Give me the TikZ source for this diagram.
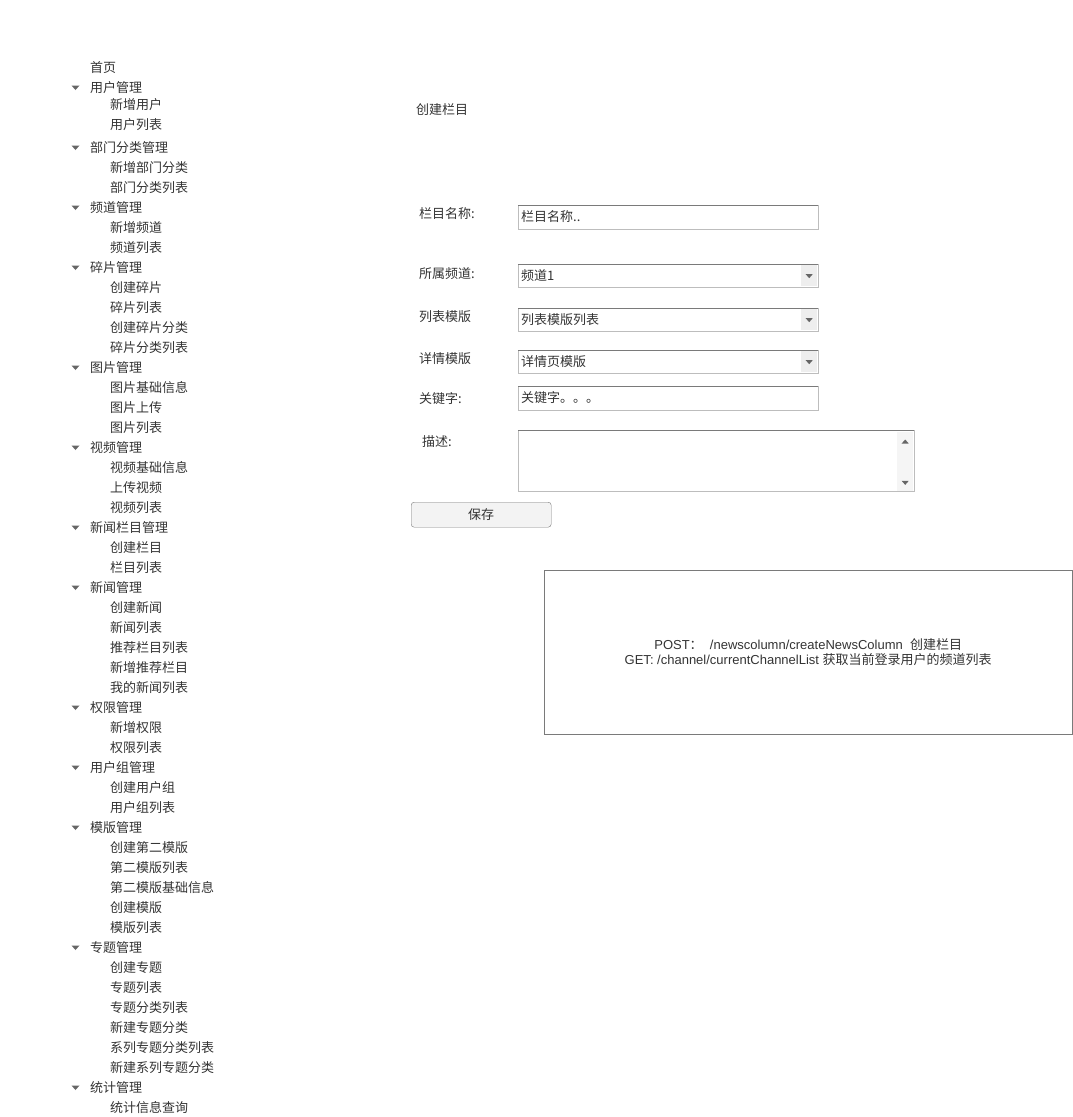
\documentclass[tikz,border=0pt]{standalone}
\usepackage{fontspec}
\setmainfont{Liberation Sans}
\newfontfamily\cjk{Noto Sans CJK SC}
\usetikzlibrary{positioning}
\definecolor{txtgray}{HTML}{333333}
\definecolor{linedark}{HTML}{7A7A7A}
\definecolor{linelight}{HTML}{BDBDBD}
\definecolor{btnfill}{HTML}{EEEEEE}
\definecolor{trigray}{HTML}{666666}
\begin{document}
\begin{tikzpicture}[x=1pt, y=1pt,
  every node/.style = {font=\cjk\fontsize{13}{15}\selectfont, text=txtgray, inner sep=0pt, text height=10.5pt, text depth=1.5pt},
  grp/.style = {anchor=west},
  sub/.style = {anchor=west},
  lbl/.style = {anchor=west},
  fld/.style = {draw=linelight, anchor=north west, minimum width=300pt, minimum height=24pt, text width=294pt, align=left, inner xsep=3pt},
  sel/.style = {fld, minimum height=23pt},
  dropbtn/.style = {fill=btnfill, anchor=north east, minimum width=16pt, minimum height=21pt},
  tri/.style = {fill=trigray},
  topline/.style = {draw=linedark, line width=1pt}]
\useasboundingbox (0,0) rectangle (1072,-1117);

% sidebar menu
\node[grp] (g0) at (90,-67.5) {首页};
\node[grp] (g1) at (90,-87.5) {用户管理};
\node[sub] (s11) at (110,-104.5) {新增用户};
\node[sub] (s12) at (110,-124.5) {用户列表};
\node[grp] (g2) at (90,-147.5) {部门分类管理};
\node[sub] (s21) at (110,-167.5) {新增部门分类};
\node[sub] (s22) at (110,-187.5) {部门分类列表};
\node[grp] (g3) at (90,-207.5) {频道管理};
\node[sub] (s31) at (110,-227.5) {新增频道};
\node[sub] (s32) at (110,-247.5) {频道列表};
\node[grp] (g4) at (90,-267.5) {碎片管理};
\node[sub] (s41) at (110,-287.5) {创建碎片};
\node[sub] (s42) at (110,-307.5) {碎片列表};
\node[sub] (s43) at (110,-327.5) {创建碎片分类};
\node[sub] (s44) at (110,-347.5) {碎片分类列表};
\node[grp] (g5) at (90,-367.5) {图片管理};
\node[sub] (s51) at (110,-387.5) {图片基础信息};
\node[sub] (s52) at (110,-407.5) {图片上传};
\node[sub] (s53) at (110,-427.5) {图片列表};
\node[grp] (g6) at (90,-447.5) {视频管理};
\node[sub] (s61) at (110,-467.5) {视频基础信息};
\node[sub] (s62) at (110,-487.5) {上传视频};
\node[sub] (s63) at (110,-507.5) {视频列表};
\node[grp] (g7) at (90,-527.5) {新闻栏目管理};
\node[sub] (s71) at (110,-547.5) {创建栏目};
\node[sub] (s72) at (110,-567.5) {栏目列表};
\node[grp] (g8) at (90,-587.5) {新闻管理};
\node[sub] (s81) at (110,-607.5) {创建新闻};
\node[sub] (s82) at (110,-627.5) {新闻列表};
\node[sub] (s83) at (110,-647.5) {推荐栏目列表};
\node[sub] (s84) at (110,-667.5) {新增推荐栏目};
\node[sub] (s85) at (110,-687.5) {我的新闻列表};
\node[grp] (g9) at (90,-707.5) {权限管理};
\node[sub] (s91) at (110,-727.5) {新增权限};
\node[sub] (s92) at (110,-747.5) {权限列表};
\node[grp] (g10) at (90,-767.5) {用户组管理};
\node[sub] (s101) at (110,-787.5) {创建用户组};
\node[sub] (s102) at (110,-807.5) {用户组列表};
\node[grp] (g11) at (90,-827.5) {模版管理};
\node[sub] (s111) at (110,-847.5) {创建第二模版};
\node[sub] (s112) at (110,-867.5) {第二模版列表};
\node[sub] (s113) at (110,-887.5) {第二模版基础信息};
\node[sub] (s114) at (110,-907.5) {创建模版};
\node[sub] (s115) at (110,-927.5) {模版列表};
\node[grp] (g12) at (90,-947.5) {专题管理};
\node[sub] (s121) at (110,-967.5) {创建专题};
\node[sub] (s122) at (110,-987.5) {专题列表};
\node[sub] (s123) at (110,-1007.5) {专题分类列表};
\node[sub] (s124) at (110,-1027.5) {新建专题分类};
\node[sub] (s125) at (110,-1047.5) {系列专题分类列表};
\node[sub] (s126) at (110,-1067.5) {新建系列专题分类};
\node[grp] (g13) at (90,-1087.5) {统计管理};
\node[sub] (s131) at (110,-1107.5) {统计信息查询};

\fill[tri] ([xshift=-18.5pt,yshift=2pt]g1.west) -- ++(8pt,0) -- ++(-4pt,-4.5pt) -- cycle;
\fill[tri] ([xshift=-18.5pt,yshift=2pt]g2.west) -- ++(8pt,0) -- ++(-4pt,-4.5pt) -- cycle;
\fill[tri] ([xshift=-18.5pt,yshift=2pt]g3.west) -- ++(8pt,0) -- ++(-4pt,-4.5pt) -- cycle;
\fill[tri] ([xshift=-18.5pt,yshift=2pt]g4.west) -- ++(8pt,0) -- ++(-4pt,-4.5pt) -- cycle;
\fill[tri] ([xshift=-18.5pt,yshift=2pt]g5.west) -- ++(8pt,0) -- ++(-4pt,-4.5pt) -- cycle;
\fill[tri] ([xshift=-18.5pt,yshift=2pt]g6.west) -- ++(8pt,0) -- ++(-4pt,-4.5pt) -- cycle;
\fill[tri] ([xshift=-18.5pt,yshift=2pt]g7.west) -- ++(8pt,0) -- ++(-4pt,-4.5pt) -- cycle;
\fill[tri] ([xshift=-18.5pt,yshift=2pt]g8.west) -- ++(8pt,0) -- ++(-4pt,-4.5pt) -- cycle;
\fill[tri] ([xshift=-18.5pt,yshift=2pt]g9.west) -- ++(8pt,0) -- ++(-4pt,-4.5pt) -- cycle;
\fill[tri] ([xshift=-18.5pt,yshift=2pt]g10.west) -- ++(8pt,0) -- ++(-4pt,-4.5pt) -- cycle;
\fill[tri] ([xshift=-18.5pt,yshift=2pt]g11.west) -- ++(8pt,0) -- ++(-4pt,-4.5pt) -- cycle;
\fill[tri] ([xshift=-18.5pt,yshift=2pt]g12.west) -- ++(8pt,0) -- ++(-4pt,-4.5pt) -- cycle;
\fill[tri] ([xshift=-18.5pt,yshift=2pt]g13.west) -- ++(8pt,0) -- ++(-4pt,-4.5pt) -- cycle;

% form
\node[lbl] (title) at (416,-109.5) {创建栏目};

\node[lbl] (lname) at (419,-213.5) {栏目名称:};
\node[fld] (fname) at (518,-205) {栏目名称..};
\draw[topline] (fname.north west) -- (fname.north east);

\node[lbl] (lchan) at (419,-273.5) {所属频道:};
\node[sel] (fchan) at (518,-264) {频道1};
\draw[topline] (fchan.north west) -- (fchan.north east);
\node[dropbtn] (bchan) at ([xshift=-1pt,yshift=-1pt]fchan.north east) {};
\fill[tri] ([xshift=-3.5pt,yshift=1.5pt]bchan.center) -- ++(7pt,0) -- ++(-3.5pt,-4pt) -- cycle;

\node[lbl] (llist) at (419,-316.5) {列表模版};
\node[sel] (flist) at (518,-308) {列表模版列表};
\draw[topline] (flist.north west) -- (flist.north east);
\node[dropbtn] (blist) at ([xshift=-1pt,yshift=-1pt]flist.north east) {};
\fill[tri] ([xshift=-3.5pt,yshift=1.5pt]blist.center) -- ++(7pt,0) -- ++(-3.5pt,-4pt) -- cycle;

\node[lbl] (ldetail) at (419,-358.5) {详情模版};
\node[sel] (fdetail) at (518,-350) {详情页模版};
\draw[topline] (fdetail.north west) -- (fdetail.north east);
\node[dropbtn] (bdetail) at ([xshift=-1pt,yshift=-1pt]fdetail.north east) {};
\fill[tri] ([xshift=-3.5pt,yshift=1.5pt]bdetail.center) -- ++(7pt,0) -- ++(-3.5pt,-4pt) -- cycle;

\node[lbl] (lkey) at (419,-398.5) {关键字:};
\node[fld] (fkey) at (518,-386) {关键字。。。};
\draw[topline] (fkey.north west) -- (fkey.north east);

\node[lbl] (ldesc) at (422,-441.5) {描述:};
\node[fld, minimum width=396pt, minimum height=61pt] (fdesc) at (518,-430) {};
\draw[topline] (fdesc.north west) -- (fdesc.north east);
\node[fill=btnfill!60, anchor=north east, minimum width=16pt, minimum height=59pt] (scroll) at ([xshift=-1pt,yshift=-1.5pt]fdesc.north east) {};
\fill[tri] ([xshift=-3.5pt,yshift=-12pt]scroll.north) -- ++(7pt,0) -- ++(-3.5pt,4pt) -- cycle;
\fill[tri] ([xshift=-3.5pt,yshift=10pt]scroll.south) -- ++(7pt,0) -- ++(-3.5pt,-4pt) -- cycle;

\node[draw=linedark, fill=btnfill!70, rounded corners=3pt, minimum width=140pt, minimum height=25pt, anchor=north west] (save) at (411,-502) {保存};

% api notes
\node[draw=linedark, anchor=north west, minimum width=528pt, minimum height=164pt, align=center,
  font=\fontsize{13}{15}\selectfont, text height=, text depth=] (api) at (544,-570)
  {POST{\cjk ：}\ \ /newscolumn/createNewsColumn\ \ {\cjk 创建栏目}\\GET: /channel/currentChannelList {\cjk 获取当前登录用户的频道列表}};
\end{tikzpicture}
\end{document}
